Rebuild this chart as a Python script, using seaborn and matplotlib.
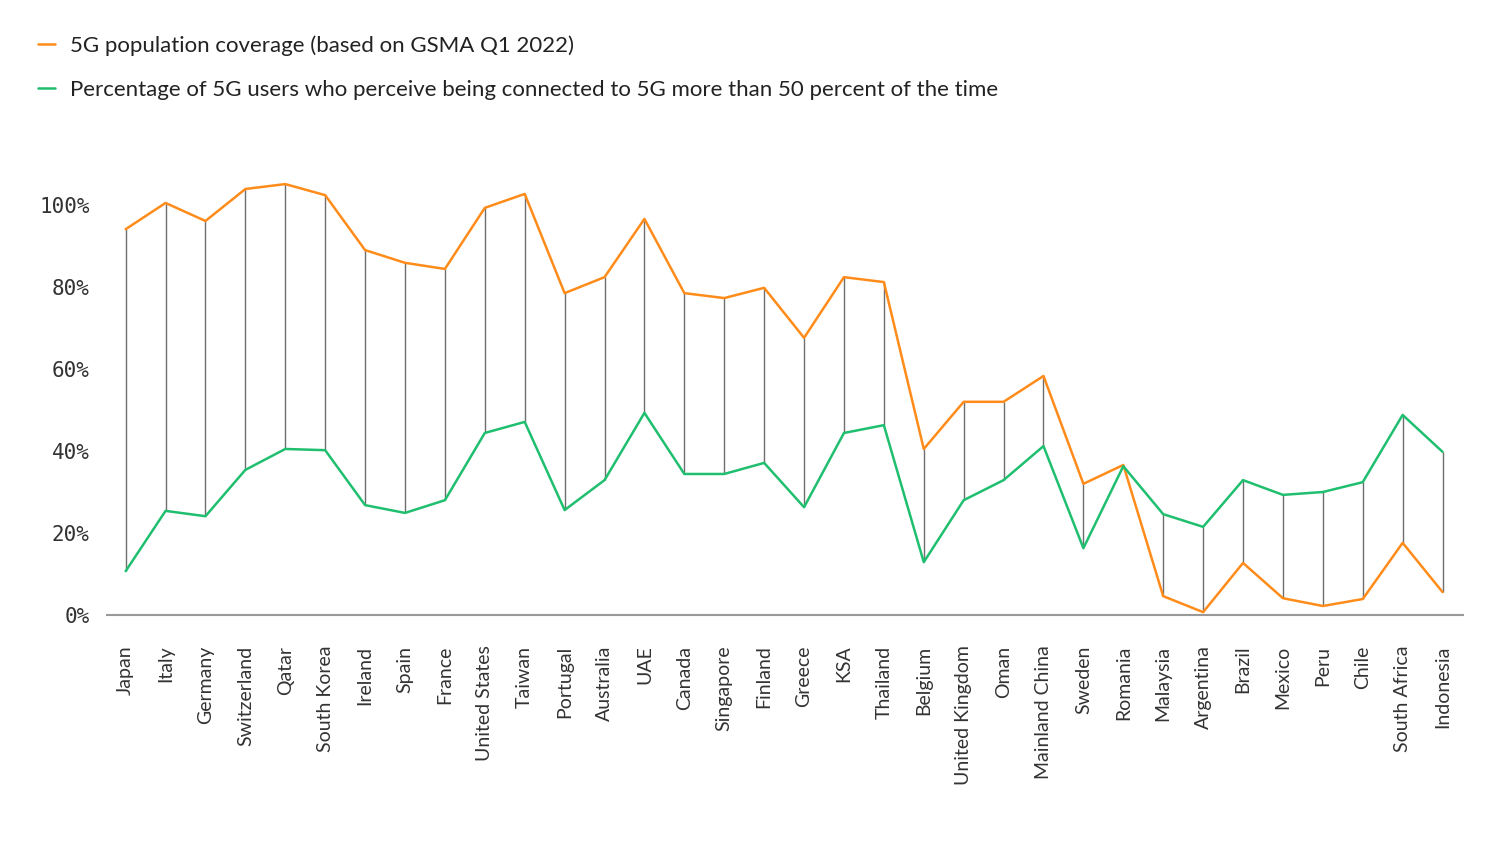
import numpy as np
import pandas as pd
import matplotlib
matplotlib.use("Agg")
import matplotlib.pyplot as plt
import seaborn as sns
from matplotlib.lines import Line2D

countries = ["Japan", "Italy", "Germany", "Switzerland", "Qatar", "South Korea", "Ireland",
             "Spain", "France", "United States", "Taiwan", "Portugal", "Australia", "UAE",
             "Canada", "Singapore", "Finland", "Greece", "KSA", "Thailand", "Belgium",
             "United Kingdom", "Oman", "Mainland China", "Sweden", "Romania", "Malaysia",
             "Argentina", "Brazil", "Mexico", "Peru", "Chile", "South Africa", "Indonesia"]

coverage = [94.1, 100.5, 96.1, 103.9, 105.1, 102.4, 89.0, 85.9, 84.4, 99.3, 102.7, 78.5,
            82.4, 96.6, 78.5, 77.3, 79.8, 67.6, 82.4, 81.2, 40.5, 52.0, 52.0, 58.3, 32.0,
            36.6, 4.6, 0.7, 12.7, 4.1, 2.2, 3.9, 17.6, 5.6]

perceived = [10.7, 25.4, 24.1, 35.4, 40.5, 40.2, 26.8, 24.9, 28.0, 44.4, 47.1, 25.6,
             32.9, 49.3, 34.4, 34.4, 37.1, 26.3, 44.4, 46.3, 12.9, 28.0, 32.9, 41.2, 16.3,
             36.3, 24.6, 21.5, 32.9, 29.3, 30.0, 32.4, 48.8, 39.8]

label_cov = "5G population coverage (based on GSMA Q1 2022)"
label_per = "Percentage of 5G users who perceive being connected to 5G more than 50 percent of the time"

orange = "#FF8C1A"
green = "#1FBF6F"

sns.set_theme(style="white")
plt.rcParams['font.family'] = ['Lato', 'DejaVu Sans']

pos = np.arange(len(countries))
df = pd.DataFrame({
    "pos": np.concatenate([pos, pos]),
    "value": coverage + perceived,
    "series": [label_cov] * len(countries) + [label_per] * len(countries),
})

fig = plt.figure(figsize=(15, 8.44), dpi=100)
ax = fig.add_axes([0.071, 0.2713, 0.904, 0.5344])

# connecting lines between the two series
ax.vlines(pos, perceived, coverage, color="#6e6e6e", lw=1, zorder=1)

sns.lineplot(data=df, x="pos", y="value", hue="series", palette=[orange, green],
             lw=1.8, ax=ax, legend=False, sort=False, zorder=2)

ax.set_xlim(-0.48, 33.5)
ax.set_ylim(0, 110)
ax.set_xticks(pos)
ax.set_xticklabels(countries, rotation=90, fontsize=14, color="#333333")
ax.set_yticks([0, 20, 40, 60, 80, 100])
ax.set_yticklabels([f"{v}%" for v in [0, 20, 40, 60, 80, 100]],
                   fontsize=15, color="#333333", family="DejaVu Sans Mono")
ax.tick_params(axis="x", length=0, pad=22)
ax.tick_params(axis="y", length=0, pad=12)
ax.set_xlabel("")
ax.set_ylabel("")
for s in ["top", "right", "left"]:
    ax.spines[s].set_visible(False)
ax.spines["bottom"].set_color("#999999")
ax.spines["bottom"].set_linewidth(1.5)

handles = [Line2D([0], [0], color=orange, lw=1.8), Line2D([0], [0], color=green, lw=1.8)]
fig.legend(handles, [label_cov, label_per], loc="upper left", bbox_to_anchor=(0.012, 0.982),
           frameon=False, fontsize=16, handlelength=0.75, handletextpad=0.7,
           labelspacing=1.1, labelcolor="#222222")

fig.savefig("out.png", dpi=100)
